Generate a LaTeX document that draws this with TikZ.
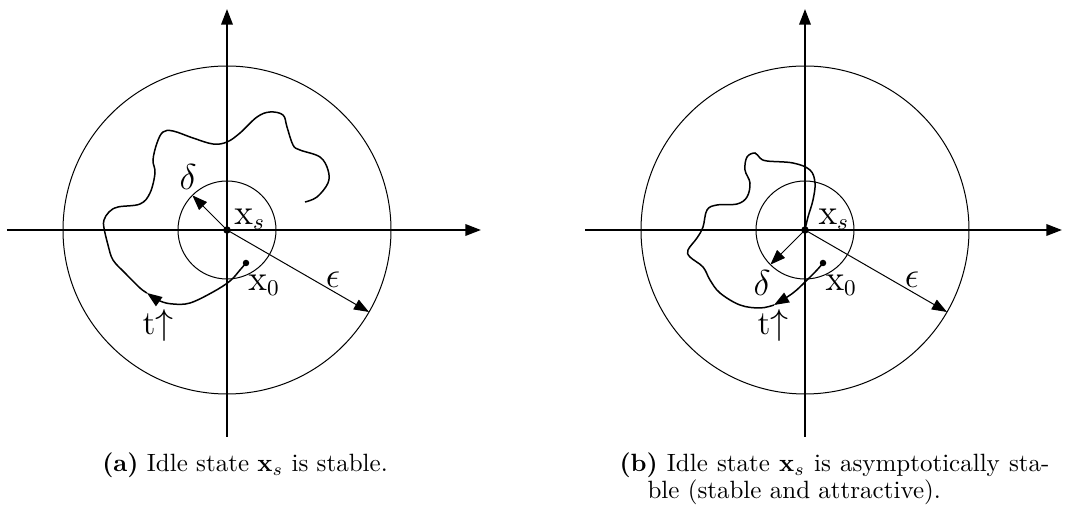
\documentclass[tikz,border=0pt]{standalone}
\usetikzlibrary{arrows.meta}
\begin{document}
\begin{tikzpicture}[x=0.4pt,y=-0.4pt,
  axis/.style={line width=0.85pt,-{Triangle[length=6.3pt,width=4.6pt]}},
  ring/.style={line width=0.4pt},
  radline/.style={line width=0.4pt,-{Triangle[length=6pt,width=4.4pt]}},
  traj/.style={line width=0.6pt},
  trajarrow/.style={line width=0.6pt,-{Triangle[length=6pt,width=4.4pt]}},
  lbl/.style={inner sep=0pt,font=\fontsize{13.5}{16}\selectfont},
  captext/.style={inner sep=0pt,font=\fontsize{10}{12}\selectfont},
  dot/.style={circle,fill,inner sep=0pt,minimum size=3pt}]
\useasboundingbox (0,0) rectangle (1076,512);
% ---------- left diagram ----------
\coordinate (cL) at (227,230);
\draw[ring] (cL) circle[radius=164];
\draw[ring] (cL) circle[radius=49];
\coordinate (hLa) at (7,230); \coordinate (hLb) at (481,230);
\coordinate (vLa) at (227,437); \coordinate (vLb) at (227,9);
\draw[axis] (hLa) -- (hLb);
\draw[axis] (vLa) -- (vLb);
\coordinate (dL) at (192.4,195.4);
\coordinate (eL) at (369,312);
\draw[radline] (cL) -- (dL);
\draw[radline] (cL) -- (eL);
\node[dot] (sL) at (cL) {};
\node[dot,minimum size=2.6pt] (x0L) at (246,263) {};
\draw[trajarrow] plot[smooth,tension=0.6] coordinates {(246,263) (240,270) (230,281) (213,292) (190,303) (173,304) (160,301) (147,293)};
\draw[traj] plot[smooth,tension=0.6] coordinates {(147,293) (140,288) (125,273) (113,260) (108,245) (104,228) (104,220) (109,212) (118,207) (140,204) (150,193) (155,173) (153,160) (157,143) (163,132) (173,131) (193,138) (213,144) (227,142) (240,133) (257,117) (270,112) (283,115) (287,127) (293,145) (300,150) (320,157) (328,170) (328,183) (317,197) (305,202)};
\node[lbl] (deltaL) at (188,177) {$\delta$};
\node[lbl,anchor=west] (xsL) at (234,219) {$\mathrm{x}_s$};
\node[lbl] (epsL) at (333,280) {$\epsilon$};
\node[lbl,anchor=west] (x0lL) at (248,285) {$\mathrm{x}_0$};
\node[lbl] (tL) at (158,326) {t$\uparrow$};
% ---------- right diagram ----------
\coordinate (cR) at (805,230);
\draw[ring] (cR) circle[radius=164];
\draw[ring] (cR) circle[radius=49];
\coordinate (hRa) at (585,230); \coordinate (hRb) at (1062,230);
\coordinate (vRa) at (805,437); \coordinate (vRb) at (805,9);
\draw[axis] (hRa) -- (hRb);
\draw[axis] (vRa) -- (vRb);
\coordinate (dR) at (770.4,264.6);
\coordinate (eR) at (947,312);
\draw[radline] (cR) -- (dR);
\draw[radline] (cR) -- (eR);
\node[dot] (sR) at (cR) {};
\node[dot,minimum size=2.6pt] (x0R) at (823,263) {};
\draw[trajarrow] plot[smooth,tension=0.6] coordinates {(823,263) (817,270) (807,280) (793,293) (774,305)};
\draw[traj] plot[smooth,tension=0.6] coordinates {(774,305) (760,308) (740,305) (720,293) (710,280) (703,267) (690,257) (688,250) (697,238) (703,227) (707,210) (717,205) (737,204) (747,197) (750,183) (745,170) (747,157) (755,153) (760,158) (767,161) (793,163) (810,170) (815,183) (813,200) (808,217) (805,230)};
\node[lbl] (deltaR) at (762,283) {$\delta$};
\node[lbl,anchor=west] (xsR) at (818,219) {$\mathrm{x}_s$};
\node[lbl] (epsR) at (912,280) {$\epsilon$};
\node[lbl,anchor=west] (x0lR) at (825,285) {$\mathrm{x}_0$};
\node[lbl] (tR) at (773,326) {t$\uparrow$};
% ---------- captions ----------
\node[captext,anchor=base] (capa) at (245,472) {\textbf{(a)} Idle state $\mathbf{x}_s$ is stable.};
\node[captext,anchor=base west] (capb1) at (619,472) {\hbox to 172pt{\textbf{(b)} Idle state $\mathbf{x}_s$ is asymptotically sta-}};
\node[captext,anchor=base west] (capb2) at (647,499) {ble (stable and attractive).};
\end{tikzpicture}
\end{document}
